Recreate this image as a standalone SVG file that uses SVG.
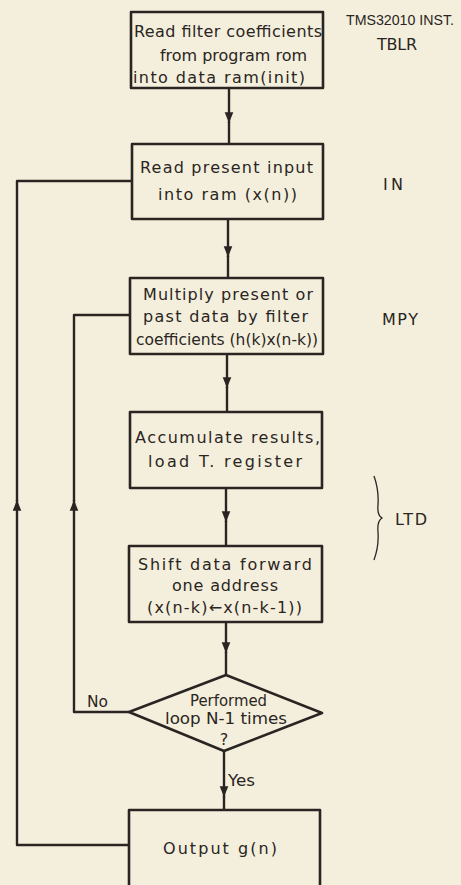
<svg xmlns="http://www.w3.org/2000/svg" width="461" height="885" viewBox="0 0 461 885">
<defs>
<style>
.bx{fill:none;stroke:#2a2522;stroke-width:2.6;stroke-linejoin:round}
.ln{fill:none;stroke:#2a2522;stroke-width:2.4;stroke-linejoin:round}
text{font-family:"DejaVu Sans",sans-serif;font-size:16px;fill:#2a2522}
</style>
<marker id="ah" viewBox="0 0 10 10" refX="10" refY="5" markerWidth="4.5" markerHeight="4.5" orient="auto" markerUnits="strokeWidth">
<path d="M0 1 L10 5 L0 9 Z" fill="#2a2522"/>
</marker>
</defs>
<rect width="461" height="885" fill="#f4efdc"/>
<g id="connectors">
<path class="ln" d="M229 88 V123" marker-end="url(#ah)"/><path class="ln" d="M229 122 V144"/>
<path class="ln" d="M228 219 V257" marker-end="url(#ah)"/><path class="ln" d="M228 256 V278"/>
<path class="ln" d="M227 354 V388" marker-end="url(#ah)"/><path class="ln" d="M227 387 V412"/>
<path class="ln" d="M226 488 V522" marker-end="url(#ah)"/><path class="ln" d="M226 521 V546"/>
<path class="ln" d="M226 622 V653" marker-end="url(#ah)"/><path class="ln" d="M226 652 V675"/>
<path class="ln" d="M224 751 V797" marker-end="url(#ah)"/><path class="ln" d="M224 796 V810"/>
<path class="ln" d="M129 845 H17 V500" marker-end="url(#ah)"/><path class="ln" d="M17 501 V181 H132"/>
<path class="ln" d="M129 712 H74 V500" marker-end="url(#ah)"/><path class="ln" d="M74 501 V315 H130"/>
<text x="87" y="707" textLength="21" lengthAdjust="spacingAndGlyphs">No</text>
<text x="228" y="786" textLength="27" lengthAdjust="spacingAndGlyphs">Yes</text>
</g>
<g id="n1"><rect class="bx" x="131" y="12" width="192" height="76"/>
<text x="134" y="37" textLength="188" lengthAdjust="spacing">Read filter coefficients</text>
<text x="160" y="61" textLength="147" lengthAdjust="spacing">from program rom</text>
<text x="133" y="83" textLength="172" lengthAdjust="spacing">into data ram(init)</text></g>
<g id="n2"><rect class="bx" x="132" y="144" width="191" height="75"/>
<text x="140" y="173" textLength="173" lengthAdjust="spacing">Read present input</text>
<text x="158" y="200" textLength="139" lengthAdjust="spacing">into ram (x(n))</text></g>
<g id="n3"><rect class="bx" x="130" y="278" width="193" height="76"/>
<text x="143" y="300" textLength="170" lengthAdjust="spacing">Multiply present or</text>
<text x="143" y="322" textLength="165" lengthAdjust="spacing">past data by filter</text>
<text x="136" y="345" textLength="182" lengthAdjust="spacingAndGlyphs">coefficients (h(k)x(n-k))</text></g>
<g id="n4"><rect class="bx" x="130" y="412" width="192" height="76"/>
<text x="135" y="443" textLength="185" lengthAdjust="spacing">Accumulate results,</text>
<text x="148" y="467" textLength="154" lengthAdjust="spacing">load T. register</text></g>
<g id="n5"><rect class="bx" x="129" y="546" width="193" height="76"/>
<text x="138" y="570" textLength="174" lengthAdjust="spacing">Shift data forward</text>
<text x="172" y="591" textLength="106" lengthAdjust="spacing">one address</text>
<text x="147" y="613" textLength="155" lengthAdjust="spacing">(x(n-k)←x(n-k-1))</text></g>
<g id="n6"><path class="bx" d="M226 675 L322 713 L224 751 L129 712 Z"/>
<text x="190" y="706" textLength="77" lengthAdjust="spacingAndGlyphs">Performed</text>
<text x="165" y="724" textLength="122" lengthAdjust="spacingAndGlyphs">loop N-1 times</text>
<text x="224" y="745" text-anchor="middle">?</text></g>
<g id="n7"><rect class="bx" x="129" y="810" width="191" height="80"/>
<text x="163" y="854" textLength="114" lengthAdjust="spacing">Output g(n)</text></g>
<g id="notes">
<text x="346" y="25" style="font-family:'Liberation Sans',sans-serif;font-size:14.5px" textLength="108" lengthAdjust="spacingAndGlyphs">TMS32010 INST.</text>
<text x="377" y="50" textLength="40" lengthAdjust="spacing">TBLR</text>
<text x="383" y="190" textLength="20" lengthAdjust="spacing">IN</text>
<text x="382" y="325" textLength="36" lengthAdjust="spacing">MPY</text>
<text x="395" y="525" textLength="32" lengthAdjust="spacing">LTD</text>
<path d="M374 476 Q379 490 378 505 Q377 515 382 518 Q377 521 378 532 Q379 546 374 560" fill="none" stroke="#2a2522" stroke-width="1.3"/>
</g>
</svg>
